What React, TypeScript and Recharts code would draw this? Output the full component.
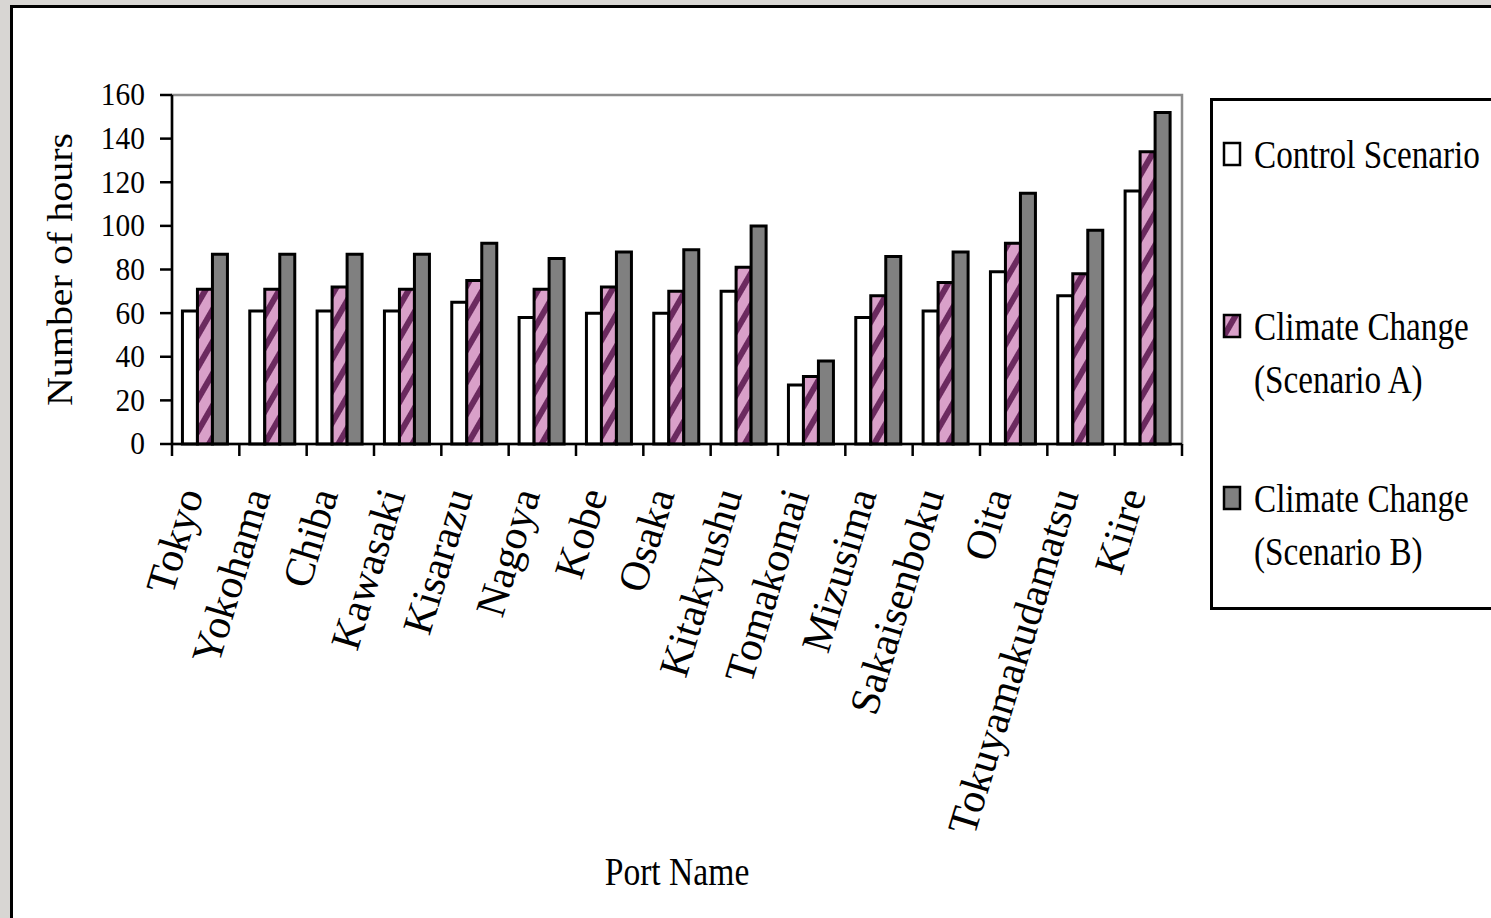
import React from "react";
import { BarChart, Bar, XAxis, YAxis, ReferenceArea } from "recharts";

const PORTS = [
  "Tokyo",
  "Yokohama",
  "Chiba",
  "Kawasaki",
  "Kisarazu",
  "Nagoya",
  "Kobe",
  "Osaka",
  "Kitakyushu",
  "Tomakomai",
  "Mizusima",
  "Sakaisenboku",
  "Oita",
  "Tokuyamakudamatsu",
  "Kiire",
];
const CONTROL = [61, 61, 61, 61, 65, 58, 60, 60, 70, 27, 58, 61, 79, 68, 116];
const SCENARIO_A = [71, 71, 72, 71, 75, 71, 72, 70, 81, 31, 68, 74, 92, 78, 134];
const SCENARIO_B = [87, 87, 87, 87, 92, 85, 88, 89, 100, 38, 86, 88, 115, 98, 152];
const Y_TICKS = [0, 20, 40, 60, 80, 100, 120, 140, 160];

const SERIES = [
  { key: "control", lines: ["Control Scenario"], fill: "#ffffff" },
  { key: "scenarioA", lines: ["Climate Change", "(Scenario A)"], fill: "hatch" },
  { key: "scenarioB", lines: ["Climate Change", "(Scenario B)"], fill: "#808080" },
];

const data = PORTS.map((port, i) => ({
  port,
  control: CONTROL[i],
  scenarioA: SCENARIO_A[i],
  scenarioB: SCENARIO_B[i],
}));

const W = 1491;
const H = 918;
const MARGIN = { top: 95, right: 309, bottom: 0, left: 0 };
const Y_AXIS_W = 172;
const PLOT_BOTTOM = 444;
const BAND = (W - MARGIN.right - MARGIN.left - Y_AXIS_W) / PORTS.length;

const FONT = "'Liberation Serif', 'Times New Roman', serif";
const PINK = "#d9a0c9";
const PLUM = "#6b2a5f";

const HatchDef = ({ id }: { id: string }) => (
  <pattern id={id} patternUnits="userSpaceOnUse" width={16} height={16} patternTransform="rotate(30)">
    <rect width={16} height={16} fill={PINK} />
    <rect width={6} height={16} fill={PLUM} />
  </pattern>
);

const fillFor = (fill: string, id: string) => (fill === "hatch" ? `url(#${id})` : fill);

// category labels plus Excel-style ticks on the category boundaries
const PortTick = (props: any) => {
  const { x, y, payload, index } = props;
  const left = x - BAND / 2;
  const ax = x - 2;
  const ay = y + 50;
  return (
    <g>
      <line x1={left} y1={y} x2={left} y2={y + 12} stroke="#000" strokeWidth={2.5} />
      {index === PORTS.length - 1 && (
        <line x1={x + BAND / 2} y1={y} x2={x + BAND / 2} y2={y + 12} stroke="#000" strokeWidth={2.5} />
      )}
      <text
        transform={`translate(${ax},${ay}) rotate(-73)`}
        textAnchor="end"
        fontFamily={FONT}
        fontSize={42}
        fill="#000"
      >
        {payload.value}
      </text>
    </g>
  );
};

const HoursTick = (props: any) => {
  const { x, y, payload } = props;
  return (
    <text
      transform={`translate(${x},${y}) scale(0.92,1)`}
      textAnchor="end"
      dominantBaseline="central"
      fontFamily={FONT}
      fontSize={32}
      fill="#000"
    >
      {payload.value}
    </text>
  );
};

const YTitle = (props: any) => {
  const vb = props.viewBox || {};
  const cx = (vb.x ?? 0) + 72;
  const cy = (vb.y ?? 95) + (vb.height ?? 349) / 2;
  return (
    <text
      transform={`translate(${cx},${cy}) rotate(-90) scale(1,0.92)`}
      textAnchor="middle"
      fontFamily={FONT}
      fontSize={40}
      fill="#000"
    >
      Number of hours
    </text>
  );
};

const XTitle = (props: any) => {
  const vb = props.viewBox || {};
  const cx = (vb.x ?? 172) + (vb.width ?? 1010) / 2;
  const cy = (vb.y ?? PLOT_BOTTOM) + 441;
  return (
    <text
      transform={`translate(${cx},${cy}) scale(0.84,1)`}
      textAnchor="middle"
      fontFamily={FONT}
      fontSize={40}
      fill="#000"
    >
      Port Name
    </text>
  );
};

const Legend = () => (
  <svg width={290} height={512} style={{ position: "absolute", left: 1210, top: 98 }}>
    <defs>
      <HatchDef id="hatchLegend" />
    </defs>
    <rect x={1.5} y={1.5} width={300} height={509} fill="#fff" stroke="#000" strokeWidth={3} />
    {SERIES.map((s, i) => {
      const cy = 56 + i * 172;
      return (
        <g key={s.key}>
          <rect
            x={14}
            y={cy - 11}
            width={16}
            height={22}
            fill={fillFor(s.fill, "hatchLegend")}
            stroke="#000"
            strokeWidth={2.5}
          />
          {s.lines.map((line, j) => (
            <text
              key={j}
              transform={`translate(44,${cy + 13.5 + j * 53}) scale(0.83,1)`}
              fontFamily={FONT}
              fontSize={40}
              fill="#000"
            >
              {line}
            </text>
          ))}
        </g>
      );
    })}
  </svg>
);

export default function App() {
  return (
    <div
      style={{
        position: "absolute",
        left: 0,
        top: 0,
        width: W,
        height: H,
        overflow: "hidden",
        background: "#d8d6d3",
      }}
    >
      <div
        style={{
          position: "absolute",
          left: 10,
          top: 5,
          width: 1520,
          height: 940,
          border: "3px solid #000",
          background: "#fff",
        }}
      />
      <div style={{ position: "absolute", left: 0, top: 0 }}>
        <BarChart width={W} height={H} data={data} margin={MARGIN} barCategoryGap="15.5%" barGap={0}>
          <defs>
            <HatchDef id="hatchA" />
          </defs>
          <ReferenceArea y1={0} y2={160} fill="none" stroke="#8c8c8c" strokeWidth={2.5} ifOverflow="visible" />
          <XAxis
            dataKey="port"
            interval={0}
            height={H - PLOT_BOTTOM}
            tickLine={false}
            tickSize={0}
            tickMargin={0}
            axisLine={{ stroke: "#000", strokeWidth: 2.5 }}
            tick={<PortTick />}
            label={<XTitle />}
          />
          <YAxis
            width={Y_AXIS_W}
            domain={[0, 160]}
            ticks={Y_TICKS}
            interval={0}
            tickSize={12}
            tickMargin={15}
            axisLine={{ stroke: "#000", strokeWidth: 2.5 }}
            tickLine={{ stroke: "#000", strokeWidth: 2.5 }}
            tick={<HoursTick />}
            label={<YTitle />}
          />
          {SERIES.map((s) => (
            <Bar
              key={s.key}
              dataKey={s.key}
              fill={fillFor(s.fill, "hatchA")}
              stroke="#000"
              strokeWidth={3}
              isAnimationActive={false}
            />
          ))}
        </BarChart>
      </div>
      <Legend />
    </div>
  );
}
